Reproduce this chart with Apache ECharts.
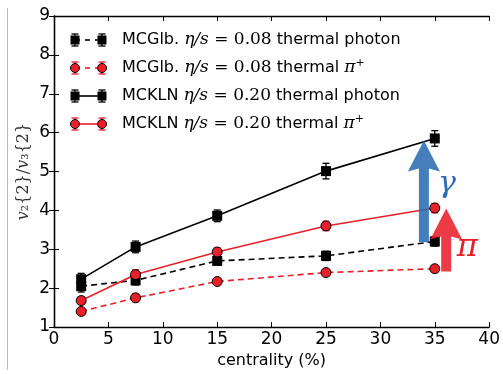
<!DOCTYPE html>
<html><head><meta charset="utf-8">
<script src="https://cdn.jsdelivr.net/npm/echarts@6/dist/echarts.min.js"></script>
<style>html,body{margin:0;padding:0;background:#fff}#c{width:503px;height:374px}</style>
</head><body><div id="c"></div>
<script>
const centrality = [2.5, 7.5, 15, 25, 35];
const glbPhoton = [2.05, 2.2, 2.7, 2.83, 3.2];
const glbPhotonErr = [0.15, 0.12, 0.1, 0.12, 0.12];
const glbPion = [1.4, 1.75, 2.17, 2.4, 2.5];
const glbPionErr = [0.08, 0.1, 0.08, 0.08, 0.08];
const klnPhoton = [2.23, 3.06, 3.86, 5.01, 5.85];
const klnPhotonErr = [0.15, 0.15, 0.15, 0.2, 0.2];
const klnPion = [1.68, 2.35, 2.93, 3.6, 4.06];
const klnPionErr = [0.1, 0.12, 0.1, 0.12, 0.12];
const xTicks = [0, 5, 10, 15, 20, 25, 30, 35, 40];
const yTicks = [1, 2, 3, 4, 5, 6, 7, 8, 9];
// annotation arrows: [x, yStart, yTip]
const gammaArrow = [34, 3.18, 5.8];
const pionArrow = [36.05, 2.43, 4.05];
const arrowLabels = ['γ', 'π'];

const RED = '#e8202a', BLUE = '#2b6cb4';
const pts = v => centrality.map((x, i) => [x, v[i]]);
const errPts = (v, e) => centrality.map((x, i) => [x, v[i] - e[i], v[i] + e[i]]);

function errSeries(v, e, color) {
  return {
    type: 'custom', z: 2, silent: true,
    data: errPts(v, e),
    renderItem: function (params, api) {
      const lo = api.coord([api.value(0), api.value(1)]);
      const hi = api.coord([api.value(0), api.value(2)]);
      const w = 3.5;
      const st = { stroke: color, lineWidth: 1.3 };
      return { type: 'group', children: [
        { type: 'line', shape: { x1: lo[0], y1: lo[1], x2: hi[0], y2: hi[1] }, style: st },
        { type: 'line', shape: { x1: lo[0] - w, y1: lo[1], x2: lo[0] + w, y2: lo[1] }, style: st },
        { type: 'line', shape: { x1: hi[0] - w, y1: hi[1], x2: hi[0] + w, y2: hi[1] }, style: st }
      ]};
    }
  };
}

function lineSeries(name, v, color, symbol, dashed) {
  return {
    name: name, type: 'line', z: 3, data: pts(v),
    symbol: symbol, symbolSize: 10,
    showAllSymbol: true,
    lineStyle: { color: color, width: 1.6, type: dashed ? [6, 4] : 'solid' },
    itemStyle: { color: symbol === 'rect' ? '#000' : RED, borderColor: '#000', borderWidth: symbol === 'rect' ? 0 : 1 },
    animation: false
  };
}

const arrowSeries = {
  type: 'custom', z: 5, silent: true,
  data: [[gammaArrow[0], gammaArrow[1], gammaArrow[2], 0], [pionArrow[0], pionArrow[1], pionArrow[2], 1]],
  renderItem: function (params, api) {
    const a = api.coord([api.value(0), api.value(1)]);
    const b = api.coord([api.value(0), api.value(2)]);
    const idx = api.value(3);
    const col = idx === 0 ? BLUE : RED;
    const sw = 5, hw = 16, hl = 28;
    const x = a[0];
    const base = b[1] + hl;
    const poly = [[x - sw, a[1]], [x - sw, base], [x - hw, base + 3], [x, b[1]], [x + hw, base + 3], [x + sw, base], [x + sw, a[1]]];
    const lbl = idx === 0
      ? { x: x + 23, y: b[1] + 44, fs: 30 }
      : { x: x + 21, y: b[1] + 39, fs: 32 };
    return { type: 'group', children: [
      { type: 'polygon', shape: { points: poly }, style: { fill: col, opacity: 0.88 } },
      { type: 'text', x: lbl.x, y: lbl.y, style: { text: arrowLabels[idx], fill: col, fontSize: lbl.fs, fontFamily: 'DejaVu Serif', fontStyle: 'italic', textAlign: 'center', textVerticalAlign: 'middle' } }
    ]};
  }
};

// legend drawing (layout only)
const legendRows = [
  { txt: 'MCGlb. {m|η/s}{n| = 0.08} thermal photon', col: '#000', sym: 'rect', dash: true },
  { txt: 'MCGlb. {m|η/s}{n| = 0.08} thermal {m|π}{s|+}', col: RED, sym: 'circle', dash: true },
  { txt: 'MCKLN {m|η/s}{n| = 0.20} thermal photon', col: '#000', sym: 'rect', dash: false },
  { txt: 'MCKLN {m|η/s}{n| = 0.20} thermal {m|π}{s|+}', col: RED, sym: 'circle', dash: false }
];
const rich = {
  m: { fontFamily: 'DejaVu Serif', fontStyle: 'italic', fontSize: 17, fill: '#000' },
  n: { fontFamily: 'DejaVu Serif', fontSize: 17, fill: '#000' },
  s: { fontFamily: 'DejaVu Serif', fontSize: 11, fill: '#000', verticalAlign: 'top', padding: [0, 0, 10, 0] }
};
const legendGraphics = [];
legendRows.forEach((r, i) => {
  const y = 40 + i * 28;
  const x1 = 75, x2 = 102;
  legendGraphics.push({ type: 'line', shape: { x1: x1, y1: y, x2: x2, y2: y }, style: { stroke: r.col, lineWidth: 1.6, lineDash: r.dash ? [5, 5] : null } });
  [x1, x2].forEach(x => {
    legendGraphics.push({ type: 'line', shape: { x1: x, y1: y - 6, x2: x, y2: y + 6 }, style: { stroke: r.col, lineWidth: 1.3 } });
    legendGraphics.push({ type: 'line', shape: { x1: x - 3.5, y1: y - 6, x2: x + 3.5, y2: y - 6 }, style: { stroke: r.col, lineWidth: 1.3 } });
    legendGraphics.push({ type: 'line', shape: { x1: x - 3.5, y1: y + 6, x2: x + 3.5, y2: y + 6 }, style: { stroke: r.col, lineWidth: 1.3 } });
    if (r.sym === 'rect') legendGraphics.push({ type: 'rect', shape: { x: x - 4.5, y: y - 4.5, width: 9, height: 9 }, style: { fill: '#000' } });
    else legendGraphics.push({ type: 'circle', shape: { cx: x, cy: y, r: 4.5 }, style: { fill: RED, stroke: '#000', lineWidth: 1 } });
  });
  legendGraphics.push({ type: 'text', x: 122, y: y, style: { text: r.txt, rich: rich, fontSize: 16, fontFamily: 'DejaVu Sans', fill: '#000', textVerticalAlign: 'middle' } });
});

const chart = echarts.init(document.getElementById('c'), null, { renderer: 'canvas' });
const axisLine = { show: true, lineStyle: { color: '#000', width: 1.3 } };
const tick = { show: true, inside: true, length: 5, lineStyle: { color: '#000', width: 1 } };
chart.setOption({
  animation: false,
  backgroundColor: '#fff',
  grid: { left: 54, right: 13, top: 16, bottom: 39 },
  xAxis: [{
    type: 'value', min: 0, max: 40, interval: 5,
    axisLine: axisLine, axisTick: tick, splitLine: { show: false },
    axisLabel: { color: '#000', fontSize: 17, fontFamily: 'DejaVu Sans', margin: 4,
      formatter: v => xTicks.includes(v) ? String(v) : '' },
    name: 'centrality (%)', nameLocation: 'middle', nameGap: 26,
    nameTextStyle: { color: '#000', fontSize: 16, fontFamily: 'DejaVu Sans' }
  }, {
    type: 'value', position: 'top', min: 0, max: 40, interval: 5,
    axisLine: axisLine, axisTick: tick, axisLabel: { show: false }, splitLine: { show: false }
  }],
  yAxis: [{
    type: 'value', min: 1, max: 9, interval: 1,
    axisLine: axisLine, axisTick: tick, splitLine: { show: false },
    axisLabel: { color: '#000', fontSize: 17, fontFamily: 'DejaVu Sans', margin: 4,
      formatter: v => yTicks.includes(v) ? String(v) : '' },
    name: '{v|v}₂{2}/{v|v}₃{2}', nameLocation: 'middle', nameGap: 22, nameMoveOverlap: false,
    nameTextStyle: { fontFamily: 'DejaVu Serif', fontSize: 16, color: '#333', rich: {
      v: { fontFamily: 'DejaVu Serif', fontStyle: 'italic', fontSize: 16, color: '#333' }
    } }
  }, {
    type: 'value', position: 'right', min: 1, max: 9, interval: 1,
    axisLine: axisLine, axisTick: tick, axisLabel: { show: false }, splitLine: { show: false }
  }],
  graphic: [{ type: 'line', shape: { x1: 7.5, y1: 8, x2: 7.5, y2: 370 }, style: { stroke: '#bbb', lineWidth: 1 } }].concat(legendGraphics),
  series: [
    errSeries(glbPhoton, glbPhotonErr, '#000'),
    errSeries(glbPion, glbPionErr, RED),
    errSeries(klnPhoton, klnPhotonErr, '#000'),
    errSeries(klnPion, klnPionErr, RED),
    lineSeries('g1', glbPhoton, '#000', 'rect', true),
    lineSeries('g2', glbPion, RED, 'circle', true),
    lineSeries('k1', klnPhoton, '#000', 'rect', false),
    lineSeries('k2', klnPion, RED, 'circle', false),
    arrowSeries
  ]
});
</script></body></html>
